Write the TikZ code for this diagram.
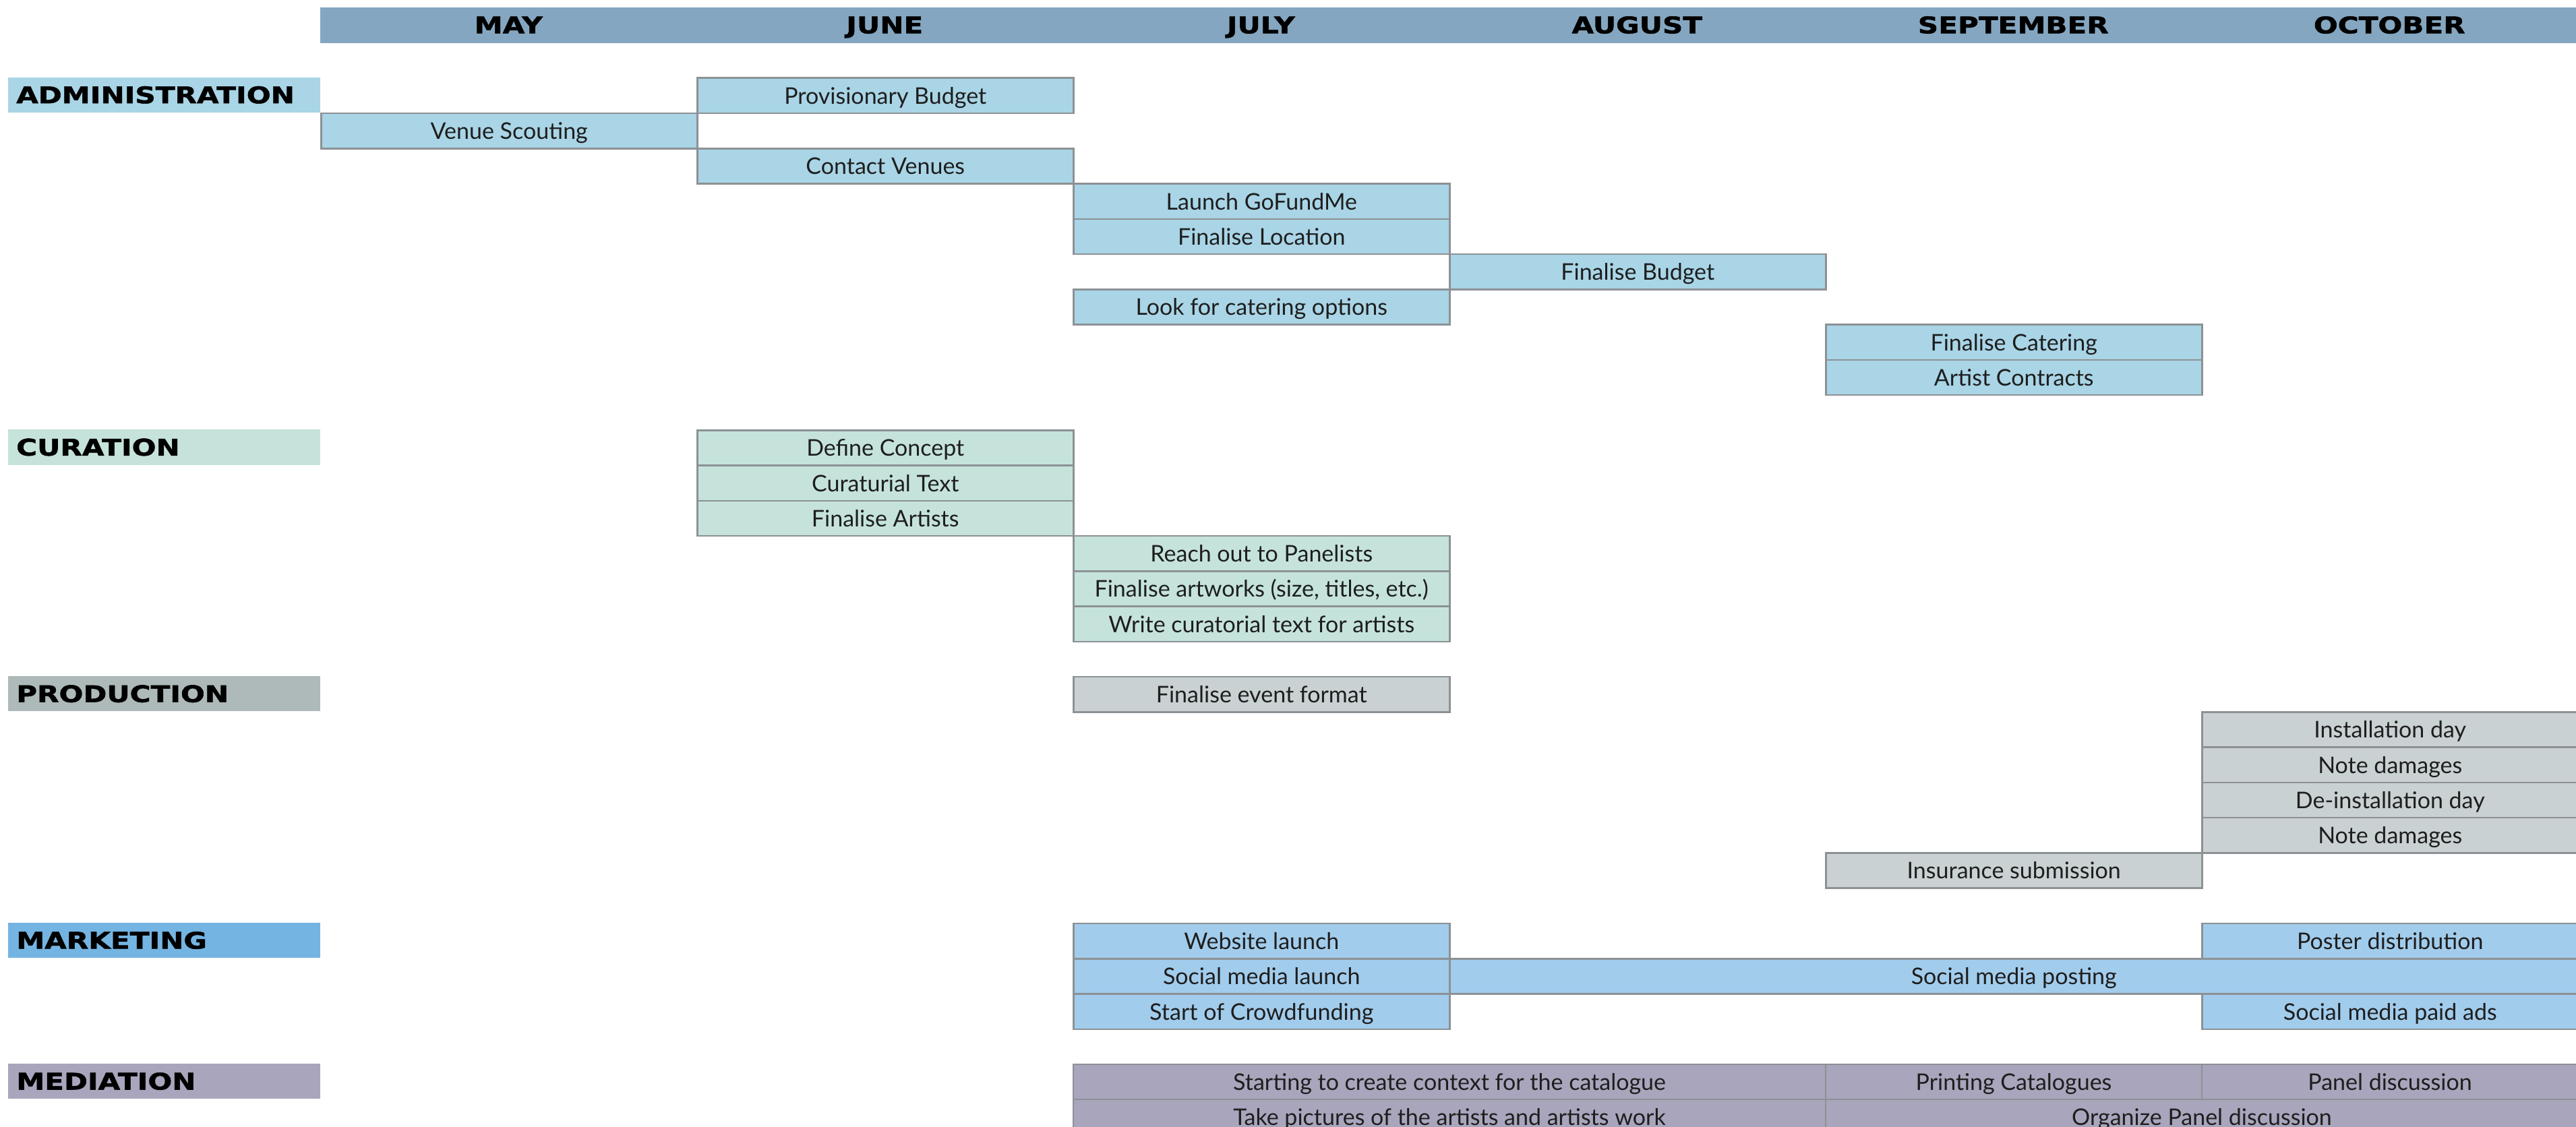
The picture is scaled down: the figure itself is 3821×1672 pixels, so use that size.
\documentclass[tikz,border=0pt]{standalone}
\usepackage{fontspec}
\newfontfamily\taskfont{Lato}
\newfontfamily\headfont{DejaVu Sans}[FakeStretch=1.24, FakeBold=1.6]
\definecolor{hdr}{HTML}{84A6C0}
\definecolor{adm}{HTML}{A9D5E6}
\definecolor{cur}{HTML}{C5E3DB}
\definecolor{prodlab}{HTML}{AEB9BA}
\definecolor{prod}{HTML}{C9D1D3}
\definecolor{mktlab}{HTML}{74B4E2}
\definecolor{mkt}{HTML}{A2CCEC}
\definecolor{med}{HTML}{A8A5BC}
\definecolor{edge}{HTML}{8C9195}
\definecolor{ink}{HTML}{1E1E1E}
\tikzset{
  cell/.style={rectangle, inner sep=0pt, minimum height=52.26pt,
    text height=38.5pt, text depth=13.76pt, anchor=north west},
  taskbox/.style={cell, fill=#1, draw=edge, line width=2.5pt, text=ink,
    font=\taskfont\fontsize{34}{40}\selectfont},
  medbox/.style={taskbox=med, line width=2pt},
  labelbox/.style={cell, fill=#1, inner xsep=12pt, text width=439pt, align=left,
    font=\headfont\bfseries\fontsize{34}{40}\selectfont},
  monthbox/.style={cell, fill=hdr, draw=hdr, line width=0.5pt, minimum width=558pt,
    font=\headfont\bfseries\fontsize{34}{40}\selectfont},
}
\newcommand\tk[6]{%
  \node[#2, minimum width={#5*558pt}] (#1) at ({475+558*#4},{114.5+52.26*#3}) {#6};}
\newcommand\lb[4]{%
  \node[labelbox=#2] (#1) at (12,{114.5+52.26*#3}) {#4};}
\newcommand\mo[3]{%
  \node[monthbox] (#1) at ({475+558*#2},10.7) {#3};}
\begin{document}
\begin{tikzpicture}[x=1pt,y=-1pt]
\clip (0,0) rectangle (3821,1672);
\fill[white] (0,0) rectangle (3821,1672);
% header
\mo{may}{0}{MAY}
\mo{jun}{1}{JUNE}
\mo{jul}{2}{JULY}
\mo{aug}{3}{AUGUST}
\mo{sep}{4}{SEPTEMBER}
\mo{oct}{5}{OCTOBER}
% section labels
\lb{ladm}{adm}{0}{ADMINISTRATION}
\lb{lcur}{cur}{10}{CURATION}
\lb{lprod}{prodlab}{17}{PRODUCTION}
\lb{lmkt}{mktlab}{24}{MARKETING}
\lb{lmed}{med}{28}{MEDIATION}
% administration
\tk{pb}{taskbox=adm}{0}{1}{1}{Provisionary Budget}
\tk{vs}{taskbox=adm}{1}{0}{1}{Venue Scouting}
\tk{cv}{taskbox=adm}{2}{1}{1}{Contact Venues}
\tk{gf}{taskbox=adm}{3}{2}{1}{Launch GoFundMe}
\tk{fl}{taskbox=adm}{4}{2}{1}{Finalise Location}
\tk{fb}{taskbox=adm}{5}{3}{1}{Finalise Budget}
\tk{lc}{taskbox=adm}{6}{2}{1}{Look for catering options}
\tk{fc}{taskbox=adm}{7}{4}{1}{Finalise Catering}
\tk{ac}{taskbox=adm}{8}{4}{1}{Artist Contracts}
% curation
\tk{dc}{taskbox=cur}{10}{1}{1}{Define Concept}
\tk{ct}{taskbox=cur}{11}{1}{1}{Curaturial Text}
\tk{fa}{taskbox=cur}{12}{1}{1}{Finalise Artists}
\tk{rp}{taskbox=cur}{13}{2}{1}{Reach out to Panelists}
\tk{fw}{taskbox=cur}{14}{2}{1}{Finalise artworks (size, titles, etc.)}
\tk{wc}{taskbox=cur}{15}{2}{1}{Write curatorial text for artists}
% production
\tk{fe}{taskbox=prod}{17}{2}{1}{Finalise event format}
\tk{id}{taskbox=prod}{18}{5}{1}{Installation day}
\tk{ndA}{taskbox=prod}{19}{5}{1}{Note damages}
\tk{di}{taskbox=prod}{20}{5}{1}{De-installation day}
\tk{ndB}{taskbox=prod}{21}{5}{1}{Note damages}
\tk{is}{taskbox=prod}{22}{4}{1}{Insurance submission}
% marketing
\tk{wl}{taskbox=mkt}{24}{2}{1}{Website launch}
\tk{pd}{taskbox=mkt}{24}{5}{1}{Poster distribution}
\tk{sl}{taskbox=mkt}{25}{2}{1}{Social media launch}
\tk{sp}{taskbox=mkt}{25}{3}{3}{Social media posting}
\tk{sc}{taskbox=mkt}{26}{2}{1}{Start of Crowdfunding}
\tk{sa}{taskbox=mkt}{26}{5}{1}{Social media paid ads}
% mediation
\tk{cc}{medbox}{28}{2}{2}{Starting to create context for the catalogue}
\tk{pc}{medbox}{28}{4}{1}{Printing Catalogues}
\tk{pn}{medbox}{28}{5}{1}{Panel discussion}
\tk{tp}{medbox}{29}{2}{2}{Take pictures of the artists and artists work}
\tk{op}{medbox}{29}{4}{2}{Organize Panel discussion}
\end{tikzpicture}
\end{document}
